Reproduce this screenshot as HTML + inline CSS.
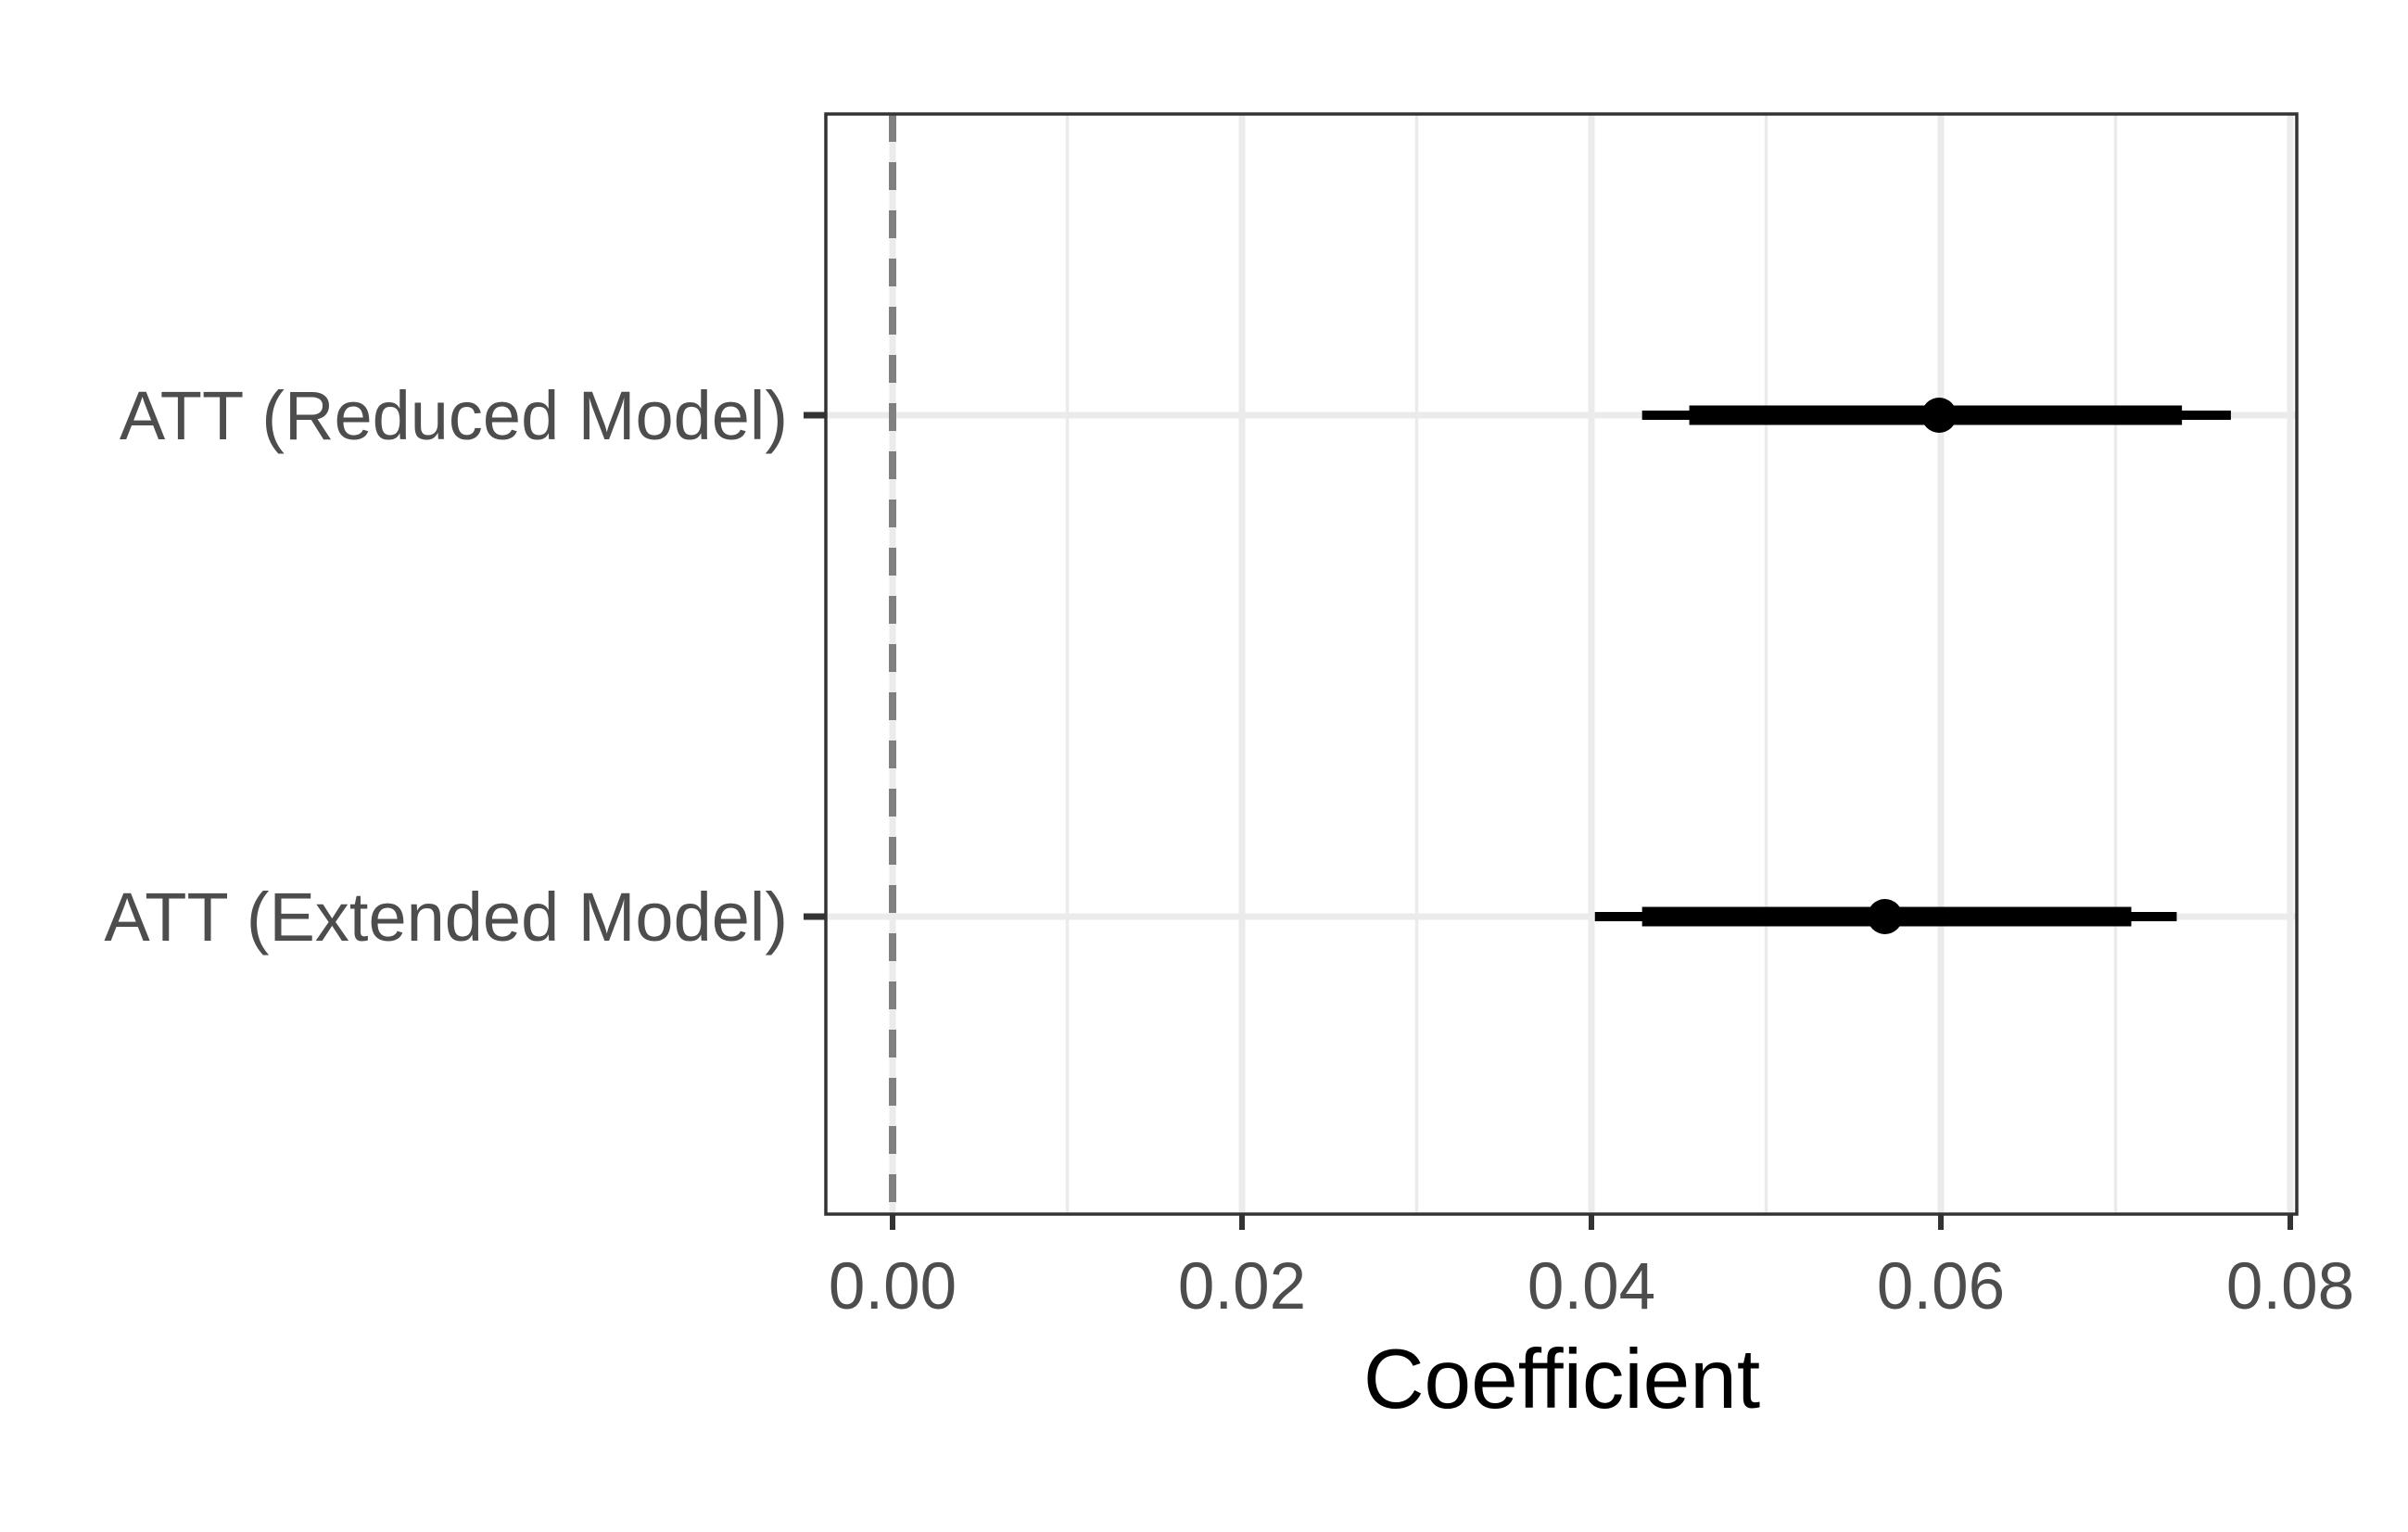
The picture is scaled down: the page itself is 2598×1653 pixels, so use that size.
<!DOCTYPE html>
<html><head><meta charset="utf-8"><style>
html,body{margin:0;padding:0;background:#fff;}
svg{display:block;font-family:"Liberation Sans",Arial,sans-serif;}
</style></head><body>
<svg id="chart" width="2598" height="1653" viewBox="0 0 2598 1653">
<g id="grid"></g>
<g id="marks"></g>
<g id="axes"></g>
<text x="1685" y="1519" font-size="91" fill="#000" text-anchor="middle">Coefficient</text>
</svg>
<script>
const categories = ["ATT (Reduced Model)", "ATT (Extended Model)"];
const estimates = [0.0599, 0.0568];
const innerLow = [0.0456, 0.0429];
const innerHigh = [0.0738, 0.0709];
const outerLow = [0.0429, 0.0402];
const outerHigh = [0.0766, 0.0735];
const xTicks = [0, 0.02, 0.04, 0.06, 0.08];
const xTickLabels = ["0.00", "0.02", "0.04", "0.06", "0.08"];
const xMinor = [0.01, 0.03, 0.05, 0.07];

const NS = "http://www.w3.org/2000/svg";
const P = {l: 891, r: 2478, t: 123, b: 1310};
const x = v => 963 + v * 18850;
const y = i => [448, 989][i];
function mk(parent, tag, attrs){const e=document.createElementNS(NS,tag);for(const k in attrs)e.setAttribute(k,attrs[k]);document.getElementById(parent).appendChild(e);return e;}

let bg = mk("grid","rect",{x:P.l,y:P.t,width:P.r-P.l,height:P.b-P.t,fill:"#fff"});


xMinor.forEach(v=>{
  const e=mk("grid","line",{x1:x(v),x2:x(v),y1:P.t,y2:P.b,stroke:"#ebebeb","stroke-width":3.5});
  
  
});
xTicks.forEach(v=>{
  const e=mk("grid","line",{x1:x(v),x2:x(v),y1:P.t,y2:P.b,stroke:"#ebebeb","stroke-width":7});
  
  
});
categories.forEach((c,i)=>{
  const e=mk("grid","line",{x1:P.l,x2:P.r,y1:y(i),y2:y(i),stroke:"#ebebeb","stroke-width":7});
  
  
});
let z=mk("marks","line",{x1:x(0),x2:x(0),y1:P.t,y2:P.b,stroke:"#808080","stroke-width":8,"stroke-dasharray":"30 22"});



categories.forEach((c,i)=>{
  const o=mk("marks","line",{x1:x(outerLow[i]),x2:x(outerHigh[i]),y1:y(i),y2:y(i),stroke:"#000","stroke-width":10});
  
  
  const n=mk("marks","line",{x1:x(innerLow[i]),x2:x(innerHigh[i]),y1:y(i),y2:y(i),stroke:"#000","stroke-width":21});
  
  
  const p=mk("marks","circle",{cx:x(estimates[i]),cy:y(i),r:19,fill:"#000"});
  
  
  const t=mk("axes","line",{x1:867,x2:P.l,y1:y(i),y2:y(i),stroke:"#333","stroke-width":7});
  
  
  const l=mk("axes","text",{x:850,y:y(i)+26,"font-size":74,fill:"#4d4d4d","text-anchor":"end"});
  l.textContent=c;
  
  
});
xTicks.forEach((v,i)=>{
  const t=mk("axes","line",{x1:x(v),x2:x(v),y1:P.b,y2:P.b+17,stroke:"#333","stroke-width":6});
  
  
  const l=mk("axes","text",{x:x(v),y:1412,"font-size":71,fill:"#4d4d4d","text-anchor":"middle"});
  l.textContent=xTickLabels[i];
  
  
});
let border=mk("axes","rect",{x:P.l,y:P.t,width:P.r-P.l,height:P.b-P.t,fill:"none",stroke:"#333","stroke-width":3.5});


</script>
</body></html>
